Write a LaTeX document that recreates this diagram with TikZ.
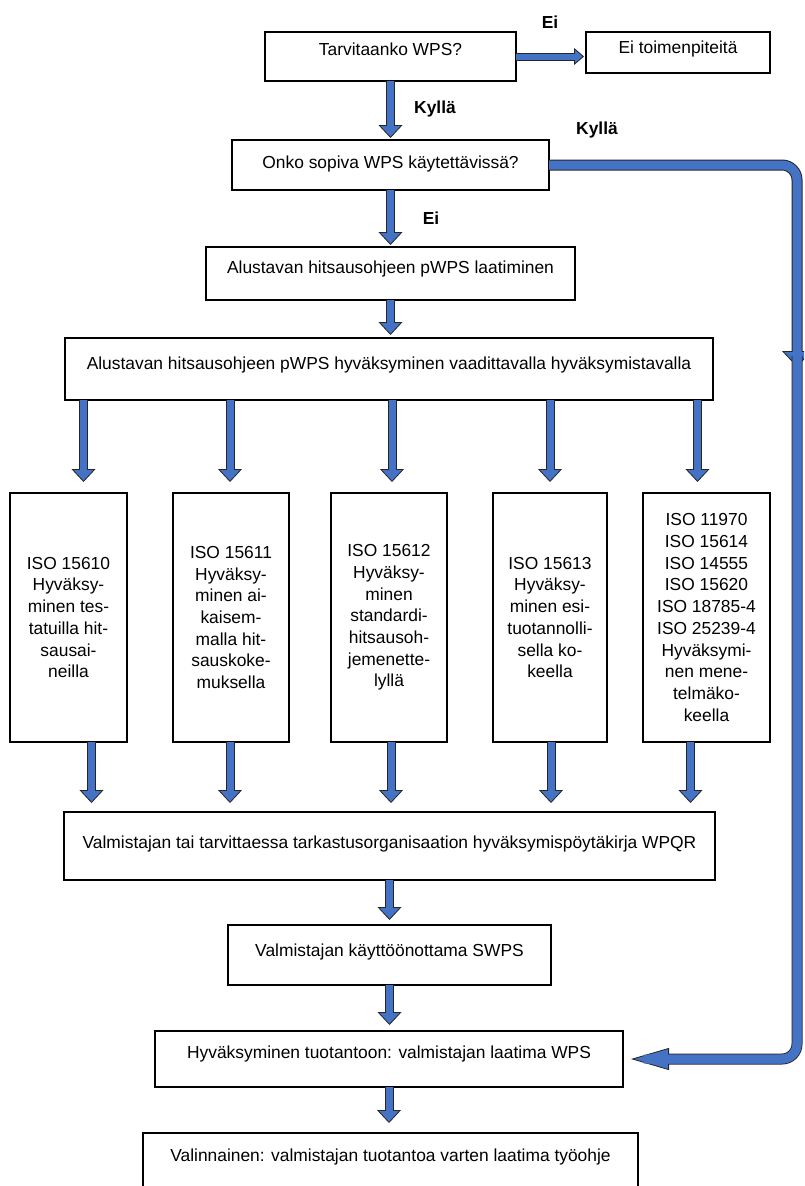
\documentclass[tikz,border=0pt]{standalone}
\usepackage{fontspec}
\setmainfont{Liberation Sans}
\usetikzlibrary{arrows.meta}
\definecolor{flowblue}{RGB}{68,114,196}
\definecolor{flowedge}{RGB}{38,38,38}

\begin{document}
\begin{tikzpicture}[x=1pt, y=-1pt,
		box/.style={draw, line width=2.9pt, outer sep=0pt, anchor=north west, inner xsep=0pt, inner ysep=0pt, align=center, font=\fontsize{17.4pt}{21.7pt}\selectfont},
		isobox/.style={box, minimum height=249pt},
		answer/.style={anchor=base, font=\fontsize{17.4pt}{21pt}\selectfont\bfseries},
		flow/.style={draw=flowedge, line width=9pt, -{Triangle[width=24pt,length=13pt,line width=0.8pt,fill=flowblue]}, postaction={draw=flowblue, line width=7pt, arrows=-, shorten >=10pt}},
		sideflow/.style={draw=flowedge, line width=8pt, -{Triangle[width=17pt,length=10pt,line width=0.8pt,fill=flowblue]}, postaction={draw=flowblue, line width=6pt, arrows=-, shorten >=8pt}},
		loopflow/.style={draw=flowedge, line width=11pt, rounded corners=15pt, -{Triangle[width=30pt,length=16pt,line width=0.8pt,fill=flowblue]}, postaction={draw=flowblue, line width=9pt, arrows=-, shorten >=13pt}},
		backflow/.style={loopflow, -{Triangle[width=22pt,length=38pt,line width=0.8pt,fill=flowblue]}, postaction={draw=flowblue, line width=9pt, arrows=-, shorten >=34pt}}]
	\clip (0, 0) rectangle (804, 1186) ;

	\node[box, minimum width=251pt, text height=23pt, text depth=26pt] (tarvitaan) at (265, 32) {Tarvitaanko WPS?} ;
	\node[box, minimum width=184pt, text height=21pt, text depth=20pt] (eitoimet) at (586, 32) {Ei toimenpiteitä} ;
	\node[box, minimum width=317pt, text height=28pt, text depth=22pt] (onko) at (232, 140) {Onko sopiva WPS käytettävissä?} ;
	\node[box, minimum width=369pt, text height=26pt, text depth=27pt] (laadinta) at (206, 247) {Alustavan hitsausohjeen pWPS laatiminen} ;
	\node[box, minimum width=648pt, text height=31pt, text depth=31pt] (hyvtapa) at (65, 338) {Alustavan hitsausohjeen pWPS hyväksyminen vaadittavalla hyväksymistavalla} ;

	\node[isobox, minimum width=117pt] (isoA) at (10, 493) {ISO 15610\\Hyväksy-\\minen tes-\\tatuilla hit-\\sausai-\\neilla} ;
	\node[isobox, minimum width=116pt] (isoB) at (173, 493) {ISO 15611\\Hyväksy-\\minen ai-\\kaisem-\\malla hit-\\sauskoke-\\muksella} ;
	\node[isobox, minimum width=116pt] (isoC) at (331, 493) {ISO 15612\\Hyväksy-\\minen\\standardi-\\hitsausoh-\\jemenette-\\lyllä} ;
	\node[isobox, minimum width=114pt] (isoD) at (493, 493) {ISO 15613\\Hyväksy-\\minen esi-\\tuotannolli-\\sella ko-\\keella} ;
	\node[isobox, minimum width=127pt] (isoE) at (643, 493) {ISO 11970\\ISO 15614\\ISO 14555\\ISO 15620\\ISO 18785-4\\ISO 25239-4\\Hyväksymi-\\nen mene-\\telmäko-\\keella} ;

	\node[box, minimum width=651pt, text height=36pt, text depth=32pt] (wpqr) at (64, 812) {Valmistajan tai tarvittaessa tarkastusorganisaation hyväksymispöytäkirja WPQR} ;
	\node[box, minimum width=323pt, text height=31pt, text depth=29pt] (swps) at (228, 925) {Valmistajan käyttöönottama SWPS} ;
	\node[box, minimum width=468pt, text height=27pt, text depth=29pt] (tuotanto) at (155, 1031) {Hyväksyminen tuotantoon: valmistajan laatima WPS} ;
	\node[box, minimum width=495pt, text height=28pt, text depth=52pt] (tyoohje) at (143, 1133) {Valinnainen: valmistajan tuotantoa varten laatima työohje} ;

	\node[answer] (eiA) at (550, 28) {Ei} ;
	\node[answer] (kyllaA) at (435, 113) {Kyllä} ;
	\node[answer] (kyllaB) at (597, 134) {Kyllä} ;
	\node[answer] (eiB) at (431, 224) {Ei} ;

	\draw[sideflow] (tarvitaan.east) -- ([xshift=-2pt]eitoimet.west |- tarvitaan.east) ;
	\draw[flow] (tarvitaan.south) -- ([yshift=2pt]onko.north) ;
	\draw[flow] (onko.south) -- ([yshift=2pt]laadinta.north) ;
	\draw[flow] (laadinta.south) -- ([yshift=3pt]laadinta.south |- hyvtapa.north) ;
	\foreach \iso/\dx in {isoA/15, isoB/-1, isoC/3, isoD/0, isoE/-9}
		\draw[flow] ([xshift=\dx pt]\iso.north |- hyvtapa.south) -- ([xshift=\dx pt, yshift=11pt]\iso.north) ;
	\foreach \iso/\dx in {isoA/23, isoB/-1, isoC/2, isoD/1, isoE/-16}
		\draw[flow] ([xshift=\dx pt]\iso.south) -- ([xshift=\dx pt, yshift=9pt]\iso.south |- wpqr.north) ;
	\draw[flow] (wpqr.south) -- ([yshift=5pt]wpqr.south |- swps.north) ;
	\draw[flow] (swps.south) -- ([yshift=6pt]swps.south |- tuotanto.north) ;
	\draw[flow] (tuotanto.south) -- ([yshift=10pt]tuotanto.south |- tyoohje.north) ;

	\coordinate (loopdrop) at (797, 367) ;
	\coordinate (loopresume) at (797, 356) ;
	\draw[loopflow] (onko.east) -| (loopdrop) ;
	\draw[backflow] (loopresume) |- ([xshift=8pt]tuotanto.east) ;
\end{tikzpicture}
\end{document}
